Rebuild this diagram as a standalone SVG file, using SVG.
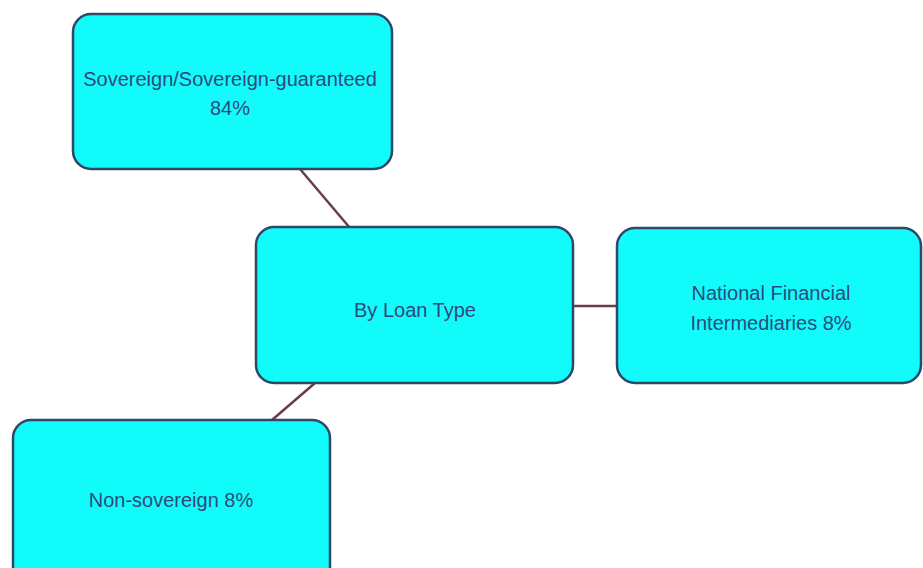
<svg xmlns="http://www.w3.org/2000/svg" width="923" height="568" viewBox="0 0 923 568">
<style>
.box{fill:#12fbfb;stroke:#2e4868;stroke-width:2.5}
.lbl{font-family:"Liberation Sans",Arial,sans-serif;font-size:20px;fill:#2c4a7c;text-anchor:middle}
.conn{stroke:#6a3c4c;stroke-width:2.5;fill:none}
</style>
<rect width="923" height="568" fill="#ffffff"/>
<g id="connectors">
<line class="conn" x1="300" y1="169" x2="350" y2="228"/>
<line class="conn" x1="573" y1="306" x2="617" y2="306"/>
<line class="conn" x1="315" y1="383" x2="272" y2="420"/>
</g>
<g id="node-sovereign">
<rect class="box" x="73" y="14" width="319" height="155" rx="18"/>
<text class="lbl" x="230" y="86">Sovereign/Sovereign-guaranteed</text>
<text class="lbl" x="230" y="115">84%</text>
</g>
<g id="node-center">
<rect class="box" x="256" y="227" width="317" height="156" rx="18"/>
<text class="lbl" x="415" y="317">By Loan Type</text>
</g>
<g id="node-nfi">
<rect class="box" x="617" y="228" width="304" height="155" rx="18"/>
<text class="lbl" x="771" y="300">National Financial</text>
<text class="lbl" x="771" y="330">Intermediaries 8%</text>
</g>
<g id="node-nonsovereign">
<rect class="box" x="13" y="420" width="317" height="165" rx="18"/>
<text class="lbl" x="171" y="507">Non-sovereign 8%</text>
</g>
</svg>
